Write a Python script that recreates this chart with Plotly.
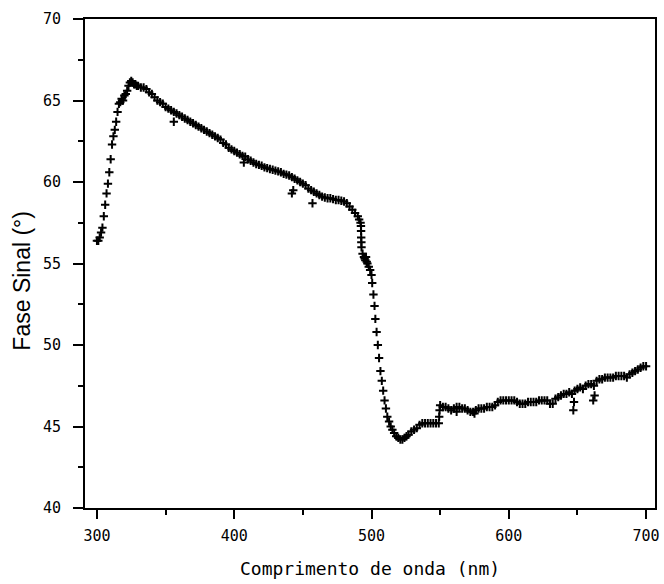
import plotly.graph_objects as go

# Wavelength (nm) and signal phase (degrees)
wavelength = [
    300, 301, 302, 303, 304, 305, 306, 307, 308, 309, 310, 311, 312, 313, 314, 315,
    316, 317, 318, 319, 320, 321, 322, 323, 324, 325, 326, 327, 328, 329, 330,
    332, 334, 336, 338, 340, 342, 344, 346, 348, 350, 352, 354, 356, 358, 360,
    362, 364, 366, 368, 370, 372, 374, 376, 378, 380, 382, 384, 386, 388, 390,
    392, 394, 396, 398, 400, 402, 404, 406, 408, 410, 412, 414, 416, 418, 420,
    422, 424, 426, 428, 430, 432, 434, 436, 438, 440, 442, 444, 446, 448, 450,
    452, 454, 456, 458, 460, 462, 464, 466, 468, 470, 472, 474, 476, 478, 480,
    482, 484, 486, 488, 490, 491, 492,
    492.3, 492.4, 492.5, 492.6, 492.7, 493.5, 494.5, 495.0, 495.5, 496.0, 496.5,
    497.0, 498.0, 499.0, 500.0, 500.5, 501.4, 502.2, 502.8, 503.7, 504.6, 505.5,
    506.5, 507.5, 508.5, 509.5, 510.5, 511.5, 512.8, 514.0, 515.2, 516.5, 518.0,
    519.5, 521.0, 522.5, 524.0, 525.5, 527.0, 529.0, 531.0, 533.0, 535.0, 537.0,
    539.0, 541.0, 543.0, 545.0, 547.0, 549.0, 549.3, 549.6,
    550, 552, 554, 556, 558, 560, 562, 564, 566, 568, 570, 572, 574, 576, 578,
    580, 582, 584, 586, 588, 590, 592, 594, 596, 598, 600, 602, 604, 606, 608,
    610, 612, 614, 616, 618, 620, 622, 624, 626, 628, 630, 632, 634, 636, 638,
    640, 642, 644, 646, 648, 650, 652, 654, 656, 658, 660, 662, 664, 666, 668,
    670, 672, 674, 676, 678, 680, 682, 684, 686, 688, 690, 692, 694, 696, 698, 700,
    # scattered outlying readings
    356, 407, 442, 443, 457, 647, 647.5, 661.5, 662.5, 562, 575,
]
phase = [
    56.4, 56.4, 56.6, 56.9, 57.2, 57.9, 58.6, 59.3, 59.9, 60.6, 61.4, 62.3, 62.8, 63.2, 63.7, 64.3,
    64.8, 64.9, 65.1, 65.0, 65.3, 65.4, 65.6, 65.9, 66.1, 66.2, 66.1, 66.0, 66.0, 65.9, 65.9,
    65.8, 65.8, 65.7, 65.5, 65.4, 65.2, 65.0, 64.9, 64.8, 64.6, 64.5, 64.4, 64.3, 64.2, 64.1,
    64.0, 63.9, 63.8, 63.7, 63.6, 63.5, 63.4, 63.3, 63.2, 63.1, 63.0, 62.9, 62.8, 62.7, 62.6,
    62.4, 62.3, 62.1, 62.0, 61.9, 61.8, 61.7, 61.6, 61.55, 61.4, 61.3, 61.2, 61.1, 61.05, 61.0,
    60.9, 60.85, 60.8, 60.75, 60.7, 60.65, 60.6, 60.5, 60.45, 60.4, 60.3, 60.2, 60.1, 60.0, 59.9,
    59.8, 59.6, 59.5, 59.4, 59.3, 59.2, 59.1, 59.05, 59.0, 59.0, 58.95, 58.9, 58.9, 58.85, 58.8,
    58.7, 58.5, 58.3, 58.1, 57.9, 57.7, 57.5,
    57.3, 57.0, 56.6, 56.3, 56.0, 55.6, 55.4, 55.3, 55.2, 55.4, 55.1,
    55.0, 54.8, 54.6, 54.3, 53.8, 53.1, 52.4, 51.6, 50.8, 50.0, 49.2,
    48.4, 47.8, 47.2, 46.6, 46.1, 45.6, 45.3, 45.0, 44.8, 44.6, 44.4,
    44.3, 44.2, 44.2, 44.3, 44.4, 44.5, 44.7, 44.8, 44.9, 45.1, 45.2,
    45.2, 45.2, 45.2, 45.2, 45.2, 45.2, 45.6, 46.0,
    46.3, 46.2, 46.2, 46.1, 46.0, 46.1, 46.2, 46.2, 46.1, 46.1, 46.0, 45.9, 45.9, 46.0, 46.1,
    46.1, 46.1, 46.2, 46.2, 46.2, 46.3, 46.5, 46.6, 46.6, 46.6, 46.6, 46.6, 46.6, 46.5, 46.4,
    46.4, 46.4, 46.5, 46.5, 46.5, 46.5, 46.6, 46.6, 46.6, 46.6, 46.4, 46.4, 46.7, 46.8, 46.9,
    47.0, 47.0, 47.1, 47.0, 47.2, 47.3, 47.4, 47.3, 47.5, 47.6, 47.6, 47.5, 47.8, 47.9, 47.9,
    48.0, 48.0, 48.0, 48.0, 48.1, 48.1, 48.1, 48.1, 48.0, 48.2, 48.3, 48.4, 48.5, 48.6, 48.7, 48.7,
    63.7, 61.2, 59.3, 59.5, 58.7, 46.0, 46.5, 46.6, 46.9, 45.9, 45.8,
]

x_ticks = [300, 400, 500, 600, 700]
y_ticks = [40, 45, 50, 55, 60, 65, 70]

fig = go.Figure()
fig.add_trace(go.Scatter(
    x=wavelength, y=phase, mode="markers",
    marker=dict(symbol="cross-thin", size=6, color="black",
                line=dict(color="black", width=2)),
    showlegend=False,
))

tick_font = dict(family="DejaVu Sans Mono", size=15, color="black")

fig.update_layout(
    width=664, height=584,
    margin=dict(l=85, r=4, t=19, b=76),
    plot_bgcolor="white", paper_bgcolor="white",
    xaxis=dict(
        range=[291.3, 706.5], tickvals=x_ticks, ticktext=[str(v) for v in x_ticks],
        ticks="outside", ticklen=9, tickwidth=2, tickcolor="black",
        minor=dict(dtick=50, ticks="outside", ticklen=5, tickwidth=2, tickcolor="black"),
        showline=True, linewidth=2, linecolor="black", mirror=True,
        showgrid=False, zeroline=False, tickfont=tick_font, ticklabelstandoff=4,
    ),
    yaxis=dict(
        range=[40, 70], tickvals=y_ticks, ticktext=[str(v) for v in y_ticks],
        ticks="outside", ticklen=10, tickwidth=2, tickcolor="black",
        minor=dict(dtick=2.5, ticks="outside", ticklen=5, tickwidth=2, tickcolor="black"),
        showline=True, linewidth=2, linecolor="black", mirror=True,
        showgrid=False, zeroline=False, tickfont=tick_font, ticklabelstandoff=9,
    ),
    annotations=[
        dict(text="Comprimento de onda (nm)", xref="paper", yref="paper",
             x=0.5, y=-0.1227, xanchor="center", yanchor="middle", showarrow=False,
             font=dict(family="DejaVu Sans Mono", size=18, color="black")),
        dict(text="Fase Sinal (°)", xref="paper", yref="paper", textangle=-90,
             x=-0.1096, y=0.464, xanchor="center", yanchor="middle", showarrow=False,
             font=dict(family="Liberation Sans, Arial", size=23, color="black")),
    ],
)

fig.write_html("out.html", config={"displayModeBar": False},
               post_script="document.body.style.margin='0';")
